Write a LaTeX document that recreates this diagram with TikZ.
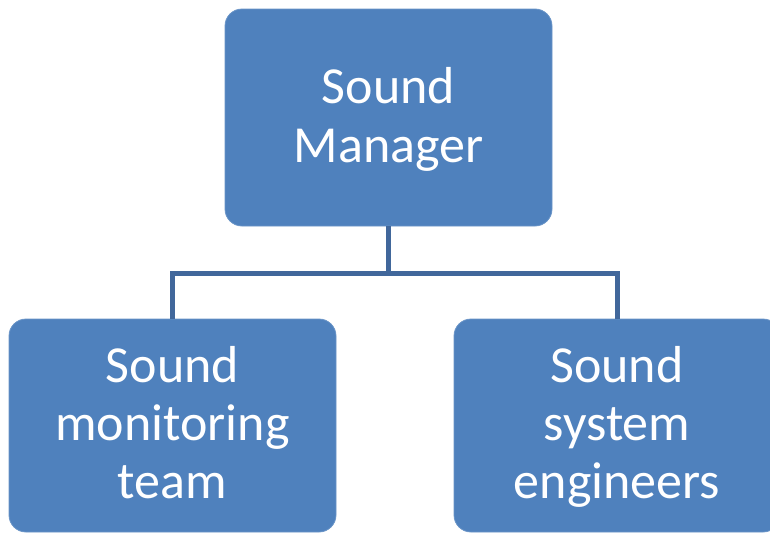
\documentclass[tikz,border=0pt]{standalone}
\usepackage{fontspec}
\setmainfont{Carlito}
\definecolor{boxblue}{HTML}{4F81BD}
\definecolor{linkblue}{HTML}{41679B}
\newcommand{\toprule}[1]{\rule{0pt}{#1pt}}
\newcommand{\botrule}[1]{\rule[-#1pt]{0pt}{0pt}}
\begin{document}
\begin{tikzpicture}[x=1pt,y=-1pt,
  orgbox/.style={draw=boxblue!85!white, line width=0.8pt, fill=boxblue, rounded corners=17pt,
    text=white, align=center, inner sep=0pt,
    font=\fontsize{52}{59}\selectfont},
  lowbox/.style={orgbox, minimum width=327pt, minimum height=213pt,
    font=\fontsize{52}{58}\selectfont},
  link/.style={draw=linkblue, line width=5pt}]
\useasboundingbox (0,0) rectangle (770,533);
\clip (0,0) rectangle (770,533);
\node[orgbox, minimum width=327pt, minimum height=217pt] (mgr) at (388.5,117.5)
  {\toprule{44}Sound\\Manager\botrule{14}};
\node[lowbox] (mon) at (172.5,425.5)
  {\toprule{43}Sound\\monitoring\\team\botrule{14}};
\node[lowbox, minimum width=326pt] (eng) at (617,425.5)
  {\toprule{43}Sound\\system\\engineers\botrule{14}};
\coordinate (jn) at (388.5,273);
\draw[link] (mgr.south) -- (jn);
\draw[link] (jn) -| (mon.north);
\draw[link] (jn) -| (eng.north);
\end{tikzpicture}
\end{document}
